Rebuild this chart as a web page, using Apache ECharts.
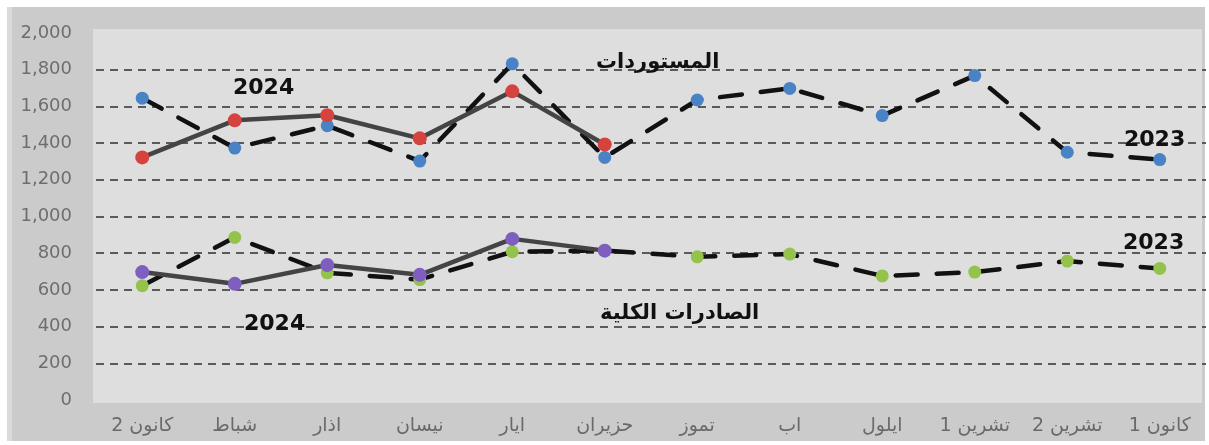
<!DOCTYPE html>
<html>
<head>
<meta charset="utf-8">
<script src="https://cdn.jsdelivr.net/npm/echarts@6/dist/echarts.min.js"></script>
<style>
html,body{margin:0;padding:0;background:#fff;}
#c{width:1209px;height:445px;}
</style>
</head>
<body>
<div id="c"></div>
<script>
// Categories (months, Arabic)
const months = ['كانون 2','شباط','اذار','نيسان','ايار','حزيران','تموز','اب','ايلول','تشرين 1','تشرين 2','كانون 1'];
// Imports (المستوردات)
const imports2023 = [1645, 1373, 1495, 1302, 1832, 1322, 1635, 1698, 1550, 1768, 1350, 1310];
const imports2024 = [1322, 1524, 1552, 1426, 1682, 1392];
// Total exports (الصادرات الكلية)
const exports2023 = [623, 886, 693, 656, 808, 815, 780, 795, 676, 697, 757, 717];
const exports2024 = [697, 633, 736, 682, 878, 814];
// Y-axis ticks
const yTicks = [0, 200, 400, 600, 800, 1000, 1200, 1400, 1600, 1800, 2000];

const chart = echarts.init(document.getElementById('c'), null, {renderer:'canvas'});

const fmt = v => v.toLocaleString('en-US');

function dashed(name, data, color, z) {
  return {
    name, type:'line', data, z,
    symbol:'circle', symbolSize:13,
    itemStyle:{color: color},
    lineStyle:{color:'#111', width:4.5, type:[22,19], cap:'round'},
    emphasis:{disabled:true}, animation:false
  };
}
function solid(name, data, color, z) {
  return {
    name, type:'line', data, z,
    symbol:'circle', symbolSize:14,
    itemStyle:{color: color},
    lineStyle:{color:'#444', width:4.5},
    emphasis:{disabled:true}, animation:false
  };
}

const bold = {fontFamily:'DejaVu Sans', fontWeight:'bold', fontSize:22, fill:'#111'};

chart.setOption({
  animation:false,
  backgroundColor:'#ffffff',
  graphic:[
    {type:'rect', z:-10, shape:{x:7,y:7,width:1198,height:434}, style:{fill:'#cbcbcb'}},
    {type:'rect', z:-10, shape:{x:7,y:7,width:5,height:434}, style:{fill:'#dadada'}},
    {type:'rect', z:-9, shape:{x:93,y:29,width:1109,height:374}, style:{fill:'#dedede'}},
    {type:'text', z:50, left:233, top:77, style:Object.assign({text:'2024'}, bold)},
    {type:'text', z:50, left:244, top:313, style:Object.assign({text:'2024'}, bold)},
    {type:'text', z:50, left:1124, top:129, style:Object.assign({text:'2023'}, bold)},
    {type:'text', z:50, left:1123, top:232, style:Object.assign({text:'2023'}, bold)},
    {type:'text', z:50, left:596, top:52, style:Object.assign({}, bold, {text:'المستوردات', fontSize:21})},
    {type:'text', z:50, left:600, top:303, style:Object.assign({}, bold, {text:'الصادرات الكلية', fontSize:21})}
  ],
  grid:{left:96, right:3, top:33, bottom:45, containLabel:false},
  xAxis:{
    type:'category', data:months, boundaryGap:true,
    axisLine:{show:false}, axisTick:{show:false},
    axisLabel:{color:'#6a6a6a', fontSize:19, fontFamily:'DejaVu Sans', margin:17, interval:0}
  },
  yAxis:{
    type:'value', min:yTicks[0], max:yTicks[yTicks.length-1], interval:200,
    axisLine:{show:false}, axisTick:{show:false},
    axisLabel:{color:'#6e6e6e', fontSize:18, fontFamily:'DejaVu Sans', margin:24, formatter:fmt},
    splitLine:{show:true, showMinLine:false, showMaxLine:false,
      lineStyle:{color:'#5a5a5a', width:2, type:[8,6]}}
  },
  series:[
    dashed('المستوردات 2023', imports2023, '#4a82c6', 5),
    solid('المستوردات 2024', imports2024, '#d6433f', 6),
    dashed('الصادرات الكلية 2023', exports2023, '#94c24a', 5),
    solid('الصادرات الكلية 2024', exports2024, '#7e5fc0', 6)
  ]
});
</script>
</body>
</html>
